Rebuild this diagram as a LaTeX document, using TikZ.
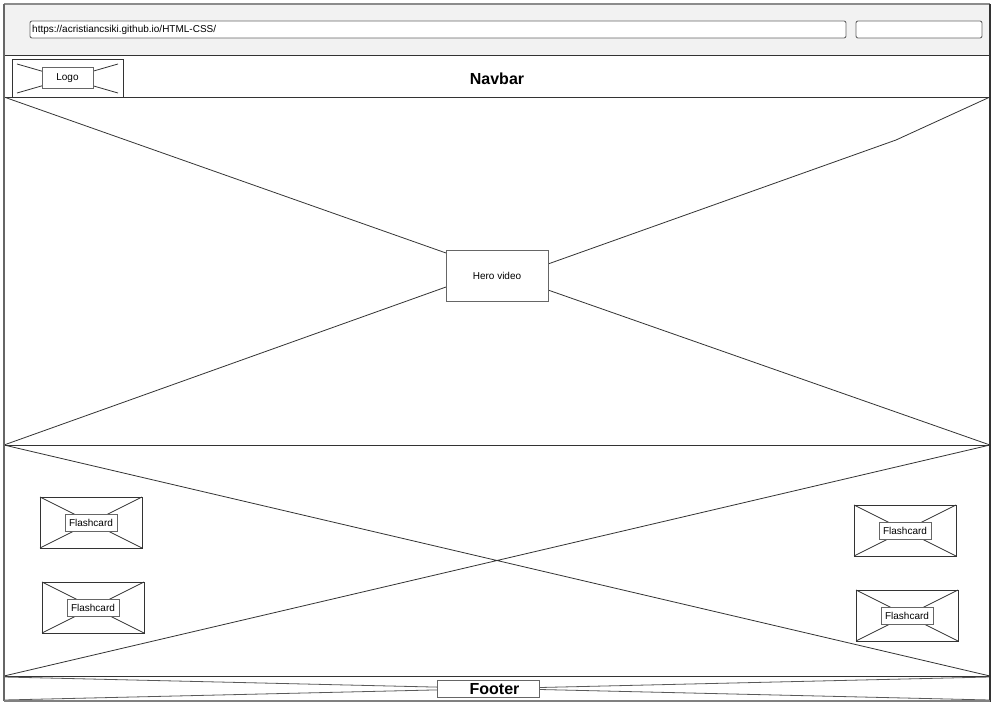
\documentclass[tikz,border=0pt]{standalone}
\usepackage{fontspec}
\setmainfont{Liberation Sans}
\begin{document}
\begin{tikzpicture}[x=1pt,y=-1pt,
  wire/.style={draw=black!80, line width=0.8pt},
  frame/.style={draw=black!60, line width=1.4pt},
  lbl/.style={draw=black!60, line width=1pt, fill=white, inner sep=0pt, font=\fontsize{10}{11}\selectfont},
  title/.style={font=\fontsize{16}{18}\selectfont\bfseries},
  field/.style={draw=black!60, line width=0.9pt, fill=white, rounded corners=2pt}]
\useasboundingbox (0,0) rectangle (1006,706);
\fill[white] (0,0) rectangle (1006,706);

% browser chrome
\fill[black!5] (4,4) rectangle (990,55);
\draw[draw=black!45, line width=1.2pt] (4,4) -- (990,4);
\node[field, minimum width=816pt, minimum height=17pt] (url) at (438,29.5) {};
\node[anchor=west, font=\fontsize{10}{11}\selectfont, inner sep=0pt] (urltext) at (32,29.5) {https://acristiancsiki.github.io/HTML-CSS/};
\node[field, minimum width=126pt, minimum height=17pt] (search) at (919,29.5) {};

% navbar
\draw[wire] (4,55) -- (990,55);
\draw[wire] (12,59) rectangle (123,97);
\draw[wire] (17,64) -- (118,93) (17,93) -- (118,64);
\node[lbl, minimum width=51pt, minimum height=21pt] (logo) at (67.5,78.5) {Logo};
\node[title] (navbar) at (497,79) {Navbar};

% hero section
\draw[wire] (4,97) rectangle (990,445);
\draw[wire] (4,97) -- (446,253);
\draw[wire] (4,445) -- (446,287);
\draw[wire] (548,264) -- (896,140) -- (990,97);
\draw[wire] (548,290) -- (990,445);
\node[lbl, minimum width=102pt, minimum height=51pt] (hero) at (497,275.5) {Hero video};

% content section
\draw[wire] (4,445) rectangle (990,676);
\draw[wire] (4,445) -- (990,676) (4,676) -- (990,445);

\newcommand\cardbox[3]{%
  \draw[wire] (#1,#2) rectangle (#1+102,#2+51);
  \draw[wire] (#1,#2) -- (#1+102,#2+51) (#1,#2+51) -- (#1+102,#2);
  \node[lbl, minimum width=52pt, minimum height=17pt] (#3) at (#1+51,#2+25.5) {Flashcard};}
\cardbox{40}{497}{cardA}
\cardbox{42}{582}{cardB}
\cardbox{854}{505}{cardC}
\cardbox{856}{590}{cardD}

% footer
\draw[wire] (4,676) rectangle (990,701);
\draw[draw=black!65, line width=0.8pt] (4,677) -- (990,700) (4,700) -- (990,677);
\node[lbl, minimum width=102pt, minimum height=17pt] (footer) at (488,689) {};
\node[title] (footertext) at (494.5,689) {Footer};

% outer frame
\draw[frame] (4,4) -- (4,701);
\draw[draw=black!80, line width=1.6pt] (990,4) -- (990,701);
\draw[draw=black!50, line width=1.4pt] (4,701) -- (990,701);
\end{tikzpicture}
\end{document}
